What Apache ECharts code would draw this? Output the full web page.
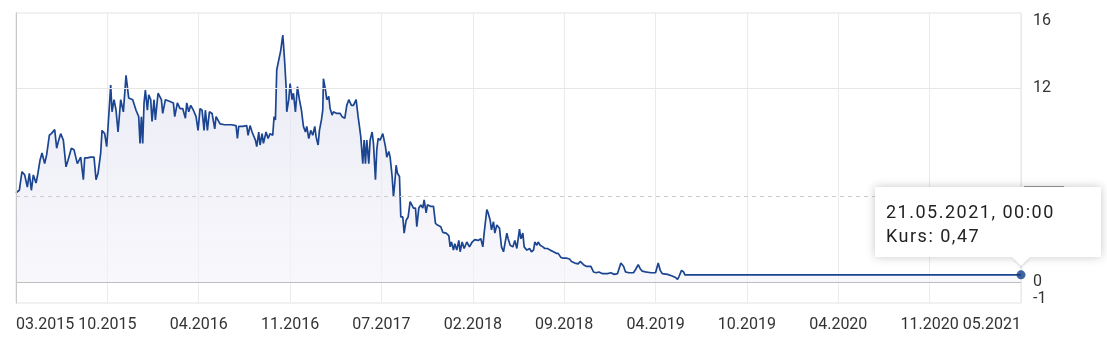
<!DOCTYPE html>
<html><head><meta charset="utf-8">
<script src="https://cdn.jsdelivr.net/npm/echarts@6/dist/echarts.min.js"></script>
<style>
html,body{margin:0;padding:0;background:#fff}
#c{width:1107px;height:342px;position:relative}
.kurs-tip::after{content:'';position:absolute;left:137px;bottom:-9px;width:0;height:0;border-left:9px solid transparent;border-right:9px solid transparent;border-top:9px solid #fff;filter:drop-shadow(0 2px 1px rgba(0,0,0,0.12));}
</style>
</head><body><div id="c"></div>
<script>
// x tick labels (evenly spaced along the trading-day axis)
const tickLabels = ['03.2015','10.2015','04.2016','11.2016','07.2017','02.2018','09.2018','04.2019','10.2019','04.2020','11.2020','05.2021'];
const tickStep = 137;           // trading days between labelled ticks
const yLabelValues = [16, 12, 0, -1];
const yGridValue = 12;
const referencePrice = 5.35;    // dashed reference line
const lastDateLabel = '21.05.2021, 00:00';

// trading-day index and closing price (Kurs)
const tradingDay = [0,5,7,9,13,17,20,23,26,30,32,36,39,43,46,50,53,58,61,64,67,71,75,78,83,87,92,97,101,103,107,112,117,120,123,127,129,133,136,138,142,144,147,150,153,157,161,165,169,
175,180,184,186,188,190,192,194,197,199,202,204,207,209,213,218,220,224,230,236,238,242,246,250,254,256,259,262,266,270,273,276,279,282,284,287,290,294,298,300,306,313,323,330,332,334,340,
346,348,351,354,356,359,361,364,366,369,371,375,378,381,385,387,389,391,393,395,397,400,401,403,405,406,409,411,414,416,419,422,425,428,431,434,436,439,442,445,448,450,453,455,458,460,461,464,466,469,471,474,476,481,486,489,493,496,499,503,506,510,
513,515,517,520,522,524,526,529,531,534,536,539,541,543,546,550,554,556,559,561,564,566,568,570,572,575,577,580,582,585,588,591,593,596,599,601,604,607,610,612,615,617,622,626,629,632,637,640,645,649,651,653,656,658,661,664,666,669,672,676,680,684,
688,693,697,700,702,706,708,711,713,716,718,721,725,728,731,733,736,738,741,745,748,751,755,757,760,762,766,770,773,776,778,781,783,786,790,793,797,801,806,810,813,817,821,826,830,833,838,843,846,851,855,
862,866,870,874,879,887,892,897,902,907,911,914,919,926,929,933,936,939,944,952,959,963,966,969,977,984,989,992,994,998,1001,1003,1507];
const price = [5.55,5.7,6.3,6.85,6.65,5.9,6.75,5.7,6.65,6.15,6.55,7.55,8.0,7.35,7.9,9.1,9.2,9.45,8.3,8.8,9.2,8.8,7.15,7.55,8.3,8.2,7.35,7.75,6.35,7.7,7.7,7.75,7.75,6.35,6.75,8.0,9.4,9.2,8.4,9.6,12.2,10.55,11.3,10.65,9.3,11.3,10.55,12.8,11.4,
11.3,10.65,10.25,8.6,10.25,8.6,11.1,11.9,10.65,11.6,11.3,9.95,11.3,10.05,11.7,11.3,10.45,11.3,11.2,11.1,10.25,11.1,10.75,10.75,10.15,11.1,10.55,10.95,10.65,10.25,9.4,10.75,10.65,9.4,10.65,9.4,10.55,10.45,9.5,10.25,9.8,9.75,9.75,9.7,8.9,9.65,9.65,
9.7,9.1,9.7,9.3,9.4,8.8,8.4,9.3,8.5,9.2,8.6,9.3,8.9,9.2,9.1,10.25,10.05,13.15,13.05,13.95,14.35,15.3,14.8,13.55,12.1,10.55,11.3,12.3,11.3,11.7,10.55,12.1,11.3,10.65,9.65,9.3,9.65,8.9,9.4,9.1,9.65,9.0,8.5,9.4,10.05,10.65,12.6,11.9,11.3,11.5,10.75,10.35,10.55,10.45,10.45,10.25,10.15,10.95,11.3,10.95,10.95,11.3,
10.25,9.65,9.0,7.35,8.8,7.35,8.8,7.35,8.8,9.3,8.6,6.35,8.2,8.9,8.8,9.2,8.4,7.75,8.1,7.75,6.55,5.3,6.15,7.25,6.75,6.55,4.05,4.05,3.05,3.85,4.05,5.0,5.1,4.6,4.6,3.45,4.6,4.8,4.6,5.1,4.3,4.8,4.7,4.7,3.65,3.55,3.45,3.1,3.05,2.9,2.2,2.5,2.0,2.4,2.0,2.6,1.9,2.5,2.1,2.5,2.2,2.5,
2.65,2.6,2.7,2.2,3.05,4.5,4.3,3.85,3.25,3.75,3.05,3.55,3.35,2.2,1.9,1.9,3.05,2.7,2.3,2.2,2.6,2.1,3.3,2.7,3.05,2.2,2.0,2.1,1.9,2.0,2.5,2.3,2.5,2.3,2.2,2.1,2.1,2.0,1.9,1.8,1.8,1.55,1.5,1.5,1.45,1.3,1.2,1.15,1.3,1.1,1.0,
1.0,0.65,0.6,0.65,0.55,0.55,0.6,0.5,0.55,1.2,1.0,0.65,0.6,0.6,0.8,1.1,0.85,0.7,0.65,0.6,0.6,1.2,0.75,0.55,0.5,0.4,0.3,0.2,0.35,0.75,0.65,0.47,0.47];

const seriesData = tradingDay.map((d, i) => [d, price[i]]);
const lastI = seriesData.length - 1;
const lineColor = '#1b4590';
const font = 'Roboto';
const labelBase = { fontSize: 16, fontFamily: font, color: '#333' };

const chart = echarts.init(document.getElementById('c'));
let tipPos = [0, 0];

const option = {
  animation: false,
  textStyle: { fontFamily: font },
  grid: { left: 16, right: 86, top: 13, bottom: 39, show: true, borderColor: '#e3e3e3', borderWidth: 1, backgroundColor: 'transparent' },
  tooltip: {
    trigger: 'item', triggerOn: 'none', alwaysShowContent: true, transitionDuration: 0,
    className: 'kurs-tip', backgroundColor: '#fff', borderWidth: 0, borderRadius: 0,
    padding: [13, 46, 9, 11],
    extraCssText: 'box-shadow:0 0 9px rgba(0,0,0,0.22);border-radius:0;letter-spacing:1.5px;line-height:24px;',
    textStyle: { fontSize: 18, fontFamily: font, color: '#222' },
    position: () => tipPos,
    formatter: params => lastDateLabel + '<br>Kurs: ' + params.value[1].toFixed(2).replace('.', ',')
  },
  xAxis: {
    type: 'value', min: 0, max: tickStep * (tickLabels.length - 1), interval: tickStep,
    axisLine: { show: false }, axisTick: { show: false },
    splitLine: { show: true, lineStyle: { color: '#ebebeb', width: 1 } },
    axisLabel: Object.assign({}, labelBase, {
      margin: 14, alignMinLabel: 'left', alignMaxLabel: 'right',
      formatter: v => tickLabels[Math.round(v / tickStep)] || ''
    })
  },
  yAxis: {
    type: 'value', position: 'right', min: -1.27, max: 16.66,
    axisLine: { show: true, lineStyle: { color: '#c8c8c8' } },
    axisTick: { show: false },
    splitLine: { show: false },
    axisLabel: Object.assign({}, labelBase, {
      margin: 12, customValues: yLabelValues,
      formatter: v => v === 16 ? '{hi|16}' : String(v),
      rich: {
        hi: Object.assign({}, labelBase, { padding: [0, 0, 6, 0] })
      }
    })
  },
  series: [
    {
      type: 'line', data: seriesData, showSymbol: false, symbol: 'none',
      lineStyle: { color: lineColor, width: 1.7 },
      areaStyle: {
        color: new echarts.graphic.LinearGradient(0, 0, 0, 1, [
          { offset: 0, color: 'rgba(220,220,238,0.85)' },
          { offset: 1, color: 'rgba(244,244,250,0.9)' }
        ])
      },
      markLine: {
        silent: true, symbol: 'none', label: { show: false }, animation: false,
        data: [
          { yAxis: yGridValue, lineStyle: { color: '#e6e6e6', type: 'solid', width: 1 } },
          { yAxis: 0, lineStyle: { color: '#bdbdbd', type: 'solid', width: 1 } },
          { yAxis: referencePrice, lineStyle: { color: '#cccccc', type: [4, 4], width: 1 },
            label: { show: true, position: 'end', distance: 4, formatter: () => referencePrice.toFixed(2).replace('.', ','),
              color: '#333', fontSize: 16, fontFamily: font, backgroundColor: '#fff', borderColor: '#999', borderWidth: 1, padding: [1, 4] } },
          { xAxis: 0, lineStyle: { color: '#c8c8c8', type: 'solid', width: 1 } }
        ]
      },
      z: 3
    },
    {
      type: 'scatter', data: [seriesData[lastI]], symbol: 'circle', symbolSize: 9,
      itemStyle: { color: '#123d86' }, z: 5
    }
  ]
};

chart.setOption(option);
const p = chart.convertToPixel({ gridIndex: 0 }, seriesData[lastI]);
tipPos = [Math.round(p[0] - 146), Math.round(p[1] - 88)];
chart.dispatchAction({ type: 'showTip', seriesIndex: 1, dataIndex: 0 });
</script>
</body></html>
